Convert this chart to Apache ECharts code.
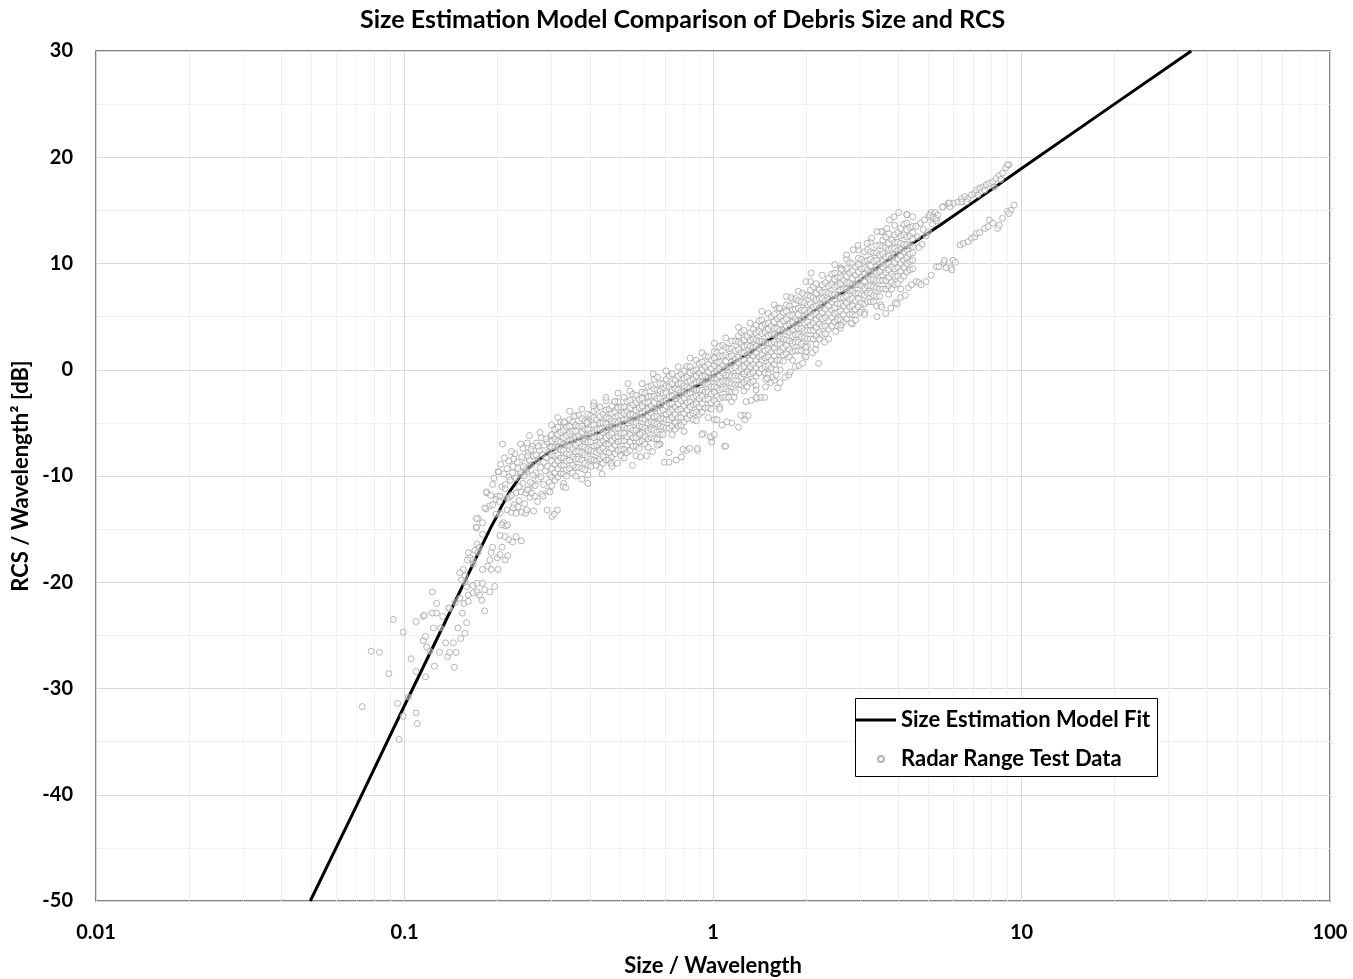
<!DOCTYPE html>
<html>
<head>
<meta charset="utf-8">
<script src="https://cdn.jsdelivr.net/npm/echarts@6/dist/echarts.min.js"></script>
<style>
  html, body { margin: 0; padding: 0; background: #fff; }
  #chart { width: 1353px; height: 979px; }
</style>
</head>
<body>
<div id="chart"></div>
<script>
const FONT = 'Lato, "Open Sans", sans-serif';

// Minor vertical grid positions (2..9 within each decade)
const minorXTicks = [0.02, 0.03, 0.04, 0.05, 0.06, 0.07, 0.08, 0.09,
  0.2, 0.3, 0.4, 0.5, 0.6, 0.7, 0.8, 0.9,
  2, 3, 4, 5, 6, 7, 8, 9,
  20, 30, 40, 50, 60, 70, 80, 90];

// Size estimation model curve: [size/wavelength, RCS/wavelength^2 dB]
const modelFit = [
  [0.0495, -50], [0.07, -41.0], [0.1, -31.6], [0.13, -24.8], [0.16, -19.4],
  [0.18, -16.3], [0.19, -14.9], [0.2, -13.7], [0.205, -13.0], [0.215, -11.9],
  [0.22, -11.4], [0.23, -10.6], [0.235, -10.2], [0.245, -9.6], [0.25, -9.35],
  [0.26, -8.9], [0.27, -8.55], [0.28, -8.2], [0.29, -7.9], [0.3, -7.6],
  [0.32, -7.2], [0.34, -6.9], [0.36, -6.6], [0.4, -6.2], [0.45, -5.6],
  [0.5, -5.1], [0.58, -4.4], [0.7, -3.1], [0.8, -2.2], [0.9, -1.4], [1.0, -0.6],
  [1.15, 0.6], [1.32, 1.6], [1.55, 3.0], [1.78, 4.0], [2.0, 5.0], [2.4, 6.6],
  [2.78, 7.7], [3.4, 9.6], [4.13, 11.3], [5.44, 13.6], [7.33, 16.2], [10, 18.95],
  [20, 25.0], [35.5, 30.0]
];

// Radar range measurements, Rayleigh tail
const rayleighTail = [
  [0.073,-31.7],[0.078,-26.5],[0.083,-26.6],[0.089,-28.6],[0.092,-23.5],[0.099,-24.7],
  [0.105,-27.2],[0.095,-31.4],[0.096,-34.8],[0.099,-32.6],[0.109,-32.3],[0.110,-33.3],
  [0.103,-30.8],[0.109,-28.4],[0.117,-28.9],[0.109,-23.7],[0.115,-23.2],[0.123,-22.9],
  [0.123,-20.9],[0.127,-22.0],[0.115,-25.5],[0.117,-25.1],[0.118,-26.1],[0.121,-26.5],
  [0.125,-27.9],[0.124,-24.3],[0.130,-26.6],[0.131,-24.3],[0.136,-25.7],[0.138,-27.0],
  [0.145,-28.0],[0.140,-26.6],[0.147,-26.6],[0.144,-25.7],[0.152,-25.3],[0.149,-24.3],
  [0.157,-24.8],[0.159,-23.8],[0.154,-22.9],[0.140,-22.5],[0.133,-23.2],[0.127,-22.9],
  [0.116,-23.1],[0.139,-22.4],[0.146,-21.9],[0.151,-21.5],[0.156,-22.0],[0.161,-21.8],
  [0.161,-21.2],[0.167,-21.0],[0.172,-20.9],[0.175,-21.2],[0.178,-21.7],[0.182,-22.7],
  [0.189,-20.9],[0.196,-20.4],[0.182,-20.7],[0.159,-20.4],[0.157,-20.0],[0.167,-20.3],
  [0.172,-20.1],[0.179,-20.1]
];

// Transition (knee) region
const kneeCloud = [
  [0.201,-9.6],[0.218,-10.1],[0.193,-10.8],[0.185,-11.6],[0.200,-11.9],[0.198,-12.2],
  [0.189,-12.8],[0.193,-12.7],[0.184,-13.1],[0.173,-14.0],[0.179,-14.4],[0.171,-14.9],
  [0.179,-15.5],[0.172,-16.4],[0.175,-16.7],[0.169,-17.0],[0.173,-17.2],[0.161,-17.2],
  [0.163,-17.7],[0.167,-17.9],[0.160,-17.9],[0.167,-18.3],[0.155,-18.8],[0.151,-19.1],
  [0.157,-19.4],[0.153,-19.8],[0.179,-18.8],[0.189,-17.9],[0.186,-18.5],[0.191,-18.8],
  [0.200,-17.7],[0.191,-17.2],[0.201,-18.8],[0.204,-17.4],[0.212,-17.9],[0.216,-17.5],
  [0.207,-16.7],[0.212,-15.7],[0.218,-16.0],[0.230,-15.7],[0.239,-16.1],[0.224,-16.2],
  [0.204,-15.6],[0.193,-16.7],[0.209,-14.4],[0.207,-14.6],[0.213,-14.7],[0.216,-14.6],
  [0.204,-13.5],[0.215,-13.2],[0.222,-13.4],[0.227,-12.7],[0.233,-12.9],[0.230,-13.5],
  [0.240,-13.4],[0.247,-13.5],[0.249,-13.2],[0.219,-12.0],[0.230,-11.6],[0.239,-11.5],
  [0.247,-11.6],[0.253,-11.3],[0.242,-10.7],[0.260,-10.7],[0.239,-9.9],[0.224,-9.7],
  [0.249,-9.6],[0.207,-11.0],[0.212,-10.8],[0.204,-11.9],[0.215,-12.1],
  [0.205,-8.9],[0.210,-9.8],[0.212,-11.2],[0.215,-9.3],[0.218,-8.6],[0.220,-10.4],
  [0.222,-11.8],[0.225,-9.1],[0.228,-7.9],[0.230,-10.2],[0.232,-8.7],[0.235,-11.0],
  [0.237,-9.6],[0.240,-8.2],[0.242,-7.4],[0.244,-10.0],[0.246,-8.8],[0.248,-9.4],
  [0.250,-11.3],[0.252,-7.8],[0.254,-8.5],[0.256,-10.6],[0.258,-9.0],[0.260,-7.2],
  [0.262,-8.1],[0.264,-11.9],[0.266,-9.7],[0.268,-6.9],[0.270,-8.6],[0.272,-10.3],
  [0.274,-7.6],[0.276,-9.2],[0.278,-6.4],[0.280,-8.0],[0.282,-10.8],[0.284,-7.1],
  [0.286,-9.5],[0.288,-8.3],[0.290,-6.8],[0.292,-11.4],[0.294,-7.7],[0.296,-9.9],
  [0.298,-6.2],[0.203,-12.4],[0.208,-7.0],[0.222,-7.7],[0.211,-8.3],[0.202,-9.6],
  [0.184,-11.5],[0.171,-14.0],[0.171,-14.8],[0.182,-13.0],[0.190,-11.8],[0.195,-10.2],
  [0.198,-13.6],[0.225,-13.0],[0.235,-12.3],[0.245,-12.6],[0.255,-12.0],[0.262,-13.3],
  [0.270,-12.4],[0.278,-11.7],[0.254,-6.2],[0.250,-6.9],[0.275,-5.9],
  [0.226,-8.4],[0.233,-9.3],[0.238,-7.0],[0.243,-9.1],[0.251,-8.1],[0.257,-7.5],
  [0.261,-9.9],[0.267,-8.0],[0.271,-7.2],[0.277,-10.1],[0.283,-8.7],[0.287,-6.5],
  [0.291,-9.1],[0.295,-10.6],[0.297,-7.3],[0.265,-10.9],[0.258,-11.6],[0.281,-11.9]
];

// Main measurement band: each row is [size/wavelength, [RCS values]]
const bandRows = [
  [0.300, [-5.2,-6.1,-6.7,-7.3,-8.0,-8.6,-9.3,-10.1,-10.9]],
  [0.307, [-5.6,-6.5,-7.3,-8.1,-8.9,-9.7,-10.4]],
  [0.314, [-4.5,-5.4,-6.1,-6.7,-7.3,-8.0,-8.6,-9.3,-10.1]],
  [0.321, [-4.9,-5.9,-6.8,-7.5,-8.3,-9.0,-9.8]],
  [0.328, [-5.0,-5.7,-6.4,-7.0,-7.6,-8.3,-9.0,-9.8,-10.7]],
  [0.335, [-5.4,-6.2,-7.1,-7.9,-8.6,-9.4,-10.0]],
  [0.343, [-3.9,-4.7,-5.3,-6.0,-6.7,-7.2,-8.0,-8.5,-9.3]],
  [0.351, [-4.9,-5.8,-6.6,-7.4,-8.2,-9.0,-9.7]],
  [0.359, [-4.3,-5.2,-5.8,-6.4,-7.1,-7.7,-8.4,-9.2,-10.0]],
  [0.367, [-4.3,-5.3,-6.2,-6.9,-7.7,-8.4,-9.2]],
  [0.376, [-3.7,-4.6,-5.3,-5.9,-6.5,-7.2,-7.8,-8.5,-9.3]],
  [0.384, [-4.8,-5.6,-6.5,-7.3,-8.0,-8.8,-9.4]],
  [0.393, [-4.2,-4.9,-5.6,-6.2,-6.8,-7.5,-8.2,-9.0,-9.9]],
  [0.402, [-4.3,-5.2,-6.0,-6.8,-7.6,-8.4,-9.1]],
  [0.411, [-3.1,-3.9,-4.5,-5.2,-5.9,-6.4,-7.2,-7.7,-8.5]],
  [0.420, [-3.7,-4.7,-5.6,-6.3,-7.1,-7.8,-8.6]],
  [0.430, [-3.5,-4.4,-5.0,-5.6,-6.3,-6.9,-7.6,-8.4,-9.2]],
  [0.440, [-4.2,-5.0,-5.9,-6.7,-7.4,-8.2,-8.8]],
  [0.450, [-2.9,-3.8,-4.5,-5.1,-5.7,-6.4,-7.0,-7.7,-8.5]],
  [0.460, [-3.7,-4.6,-5.4,-6.2,-7.0,-7.8,-8.5]],
  [0.470, [-3.4,-4.1,-4.8,-5.4,-6.0,-6.7,-7.4,-8.2,-9.1]],
  [0.481, [-3.0,-4.0,-4.9,-5.6,-6.4,-7.1,-7.9]],
  [0.492, [-2.2,-3.0,-3.6,-4.3,-5.0,-5.5,-6.3,-6.8,-7.6]],
  [0.503, [-3.5,-4.3,-5.2,-6.0,-6.7,-7.5,-8.1]],
  [0.515, [-2.6,-3.5,-4.1,-4.7,-5.4,-6.0,-6.7,-7.5,-8.3]],
  [0.526, [-3.0,-3.9,-4.7,-5.5,-6.3,-7.1,-7.8]],
  [0.538, [-2.0,-2.9,-3.6,-4.2,-4.8,-5.5,-6.1,-6.8,-7.6]],
  [0.550, [-2.3,-3.3,-4.2,-4.9,-5.7,-6.4,-7.2]],
  [0.563, [-2.4,-3.1,-3.8,-4.4,-5.0,-5.7,-6.4,-7.2,-8.1]],
  [0.576, [-2.8,-3.6,-4.5,-5.3,-6.0,-6.8,-7.4]],
  [0.589, [-1.3,-2.1,-2.7,-3.4,-4.1,-4.6,-5.4,-5.9,-6.7]],
  [0.602, [-2.2,-3.1,-3.9,-4.7,-5.5,-6.3,-7.0]],
  [0.616, [-1.6,-2.5,-3.1,-3.7,-4.4,-5.0,-5.7,-6.5,-7.3]],
  [0.630, [-1.5,-2.5,-3.4,-4.1,-4.9,-5.6,-6.4]],
  [0.644, [-0.9,-1.8,-2.5,-3.1,-3.7,-4.4,-5.0,-5.7,-6.5]],
  [0.659, [-1.9,-2.7,-3.6,-4.4,-5.1,-5.9,-6.5]],
  [0.674, [-1.3,-2.0,-2.7,-3.3,-3.9,-4.6,-5.3,-6.1,-7.0]],
  [0.689, [-1.3,-2.2,-3.0,-3.8,-4.6,-5.4,-6.1]],
  [0.705, [-0.1,-0.9,-1.5,-2.2,-2.9,-3.4,-4.2,-4.7,-5.5]],
  [0.721, [-0.6,-1.6,-2.5,-3.2,-4.0,-4.7,-5.5]],
  [0.737, [-0.4,-1.3,-1.9,-2.5,-3.2,-3.8,-4.5,-5.3,-6.1]],
  [0.754, [-1.0,-1.8,-2.7,-3.5,-4.2,-5.0,-5.6]],
  [0.771, [0.3,-0.6,-1.3,-1.9,-2.5,-3.2,-3.8,-4.5,-5.3]],
  [0.788, [-0.4,-1.3,-2.1,-2.9,-3.7,-4.5,-5.2]],
  [0.806, [-0.1,-0.8,-1.5,-2.1,-2.7,-3.4,-4.1,-4.9,-5.8]],
  [0.824, [0.3,-0.7,-1.6,-2.3,-3.1,-3.8,-4.6]],
  [0.843, [1.1,0.3,-0.3,-1.0,-1.7,-2.2,-3.0,-3.5,-4.3]],
  [0.862, [-0.1,-0.9,-1.8,-2.6,-3.3,-4.1,-4.7]],
  [0.882, [0.9,0.0,-0.6,-1.2,-1.9,-2.5,-3.2,-4.0,-4.8]],
  [0.902, [0.6,-0.3,-1.1,-1.9,-2.7,-3.5,-4.2]],
  [0.922, [1.6,0.7,0.0,-0.6,-1.2,-1.9,-2.5,-3.2,-4.0]],
  [0.943, [1.3,0.3,-0.6,-1.3,-2.1,-2.8,-3.6]],
  [0.965, [1.2,0.5,-0.2,-0.8,-1.4,-2.1,-2.8,-3.6,-4.5]],
  [0.987, [0.9,0.1,-0.8,-1.6,-2.3,-3.1,-3.7]],
  [1.01, [2.5,1.7,1.1,0.4,-0.3,-0.8,-1.6,-2.1,-2.9]],
  [1.03, [1.6,0.7,-0.1,-0.9,-1.7,-2.5,-3.2]],
  [1.05, [2.2,1.3,0.7,0.1,-0.6,-1.2,-1.9,-2.7,-3.5]],
  [1.075, [2.3,1.3,0.4,-0.3,-1.1,-1.8,-2.6]],
  [1.10, [3.0,2.1,1.4,0.8,0.2,-0.5,-1.1,-1.8,-2.6]],
  [1.125, [2.0,1.2,0.3,-0.5,-1.2,-2.0,-2.6]],
  [1.15, [2.7,2.0,1.3,0.7,0.1,-0.6,-1.3,-2.1,-3.0]],
  [1.18, [2.7,1.8,1.0,0.2,-0.6,-1.4,-2.1]],
  [1.21, [4.0,3.2,2.6,1.9,1.2,0.7,-0.1,-0.6,-1.4]],
  [1.235, [3.5,2.5,1.6,0.9,0.1,-0.7,-1.4]],
  [1.26, [3.7,2.8,2.2,1.6,0.9,0.3,-0.4,-1.2,-2.0]],
  [1.29, [3.1,2.3,1.4,0.6,-0.2,-1.0,-1.6]],
  [1.32, [4.4,3.5,2.8,2.2,1.6,0.9,0.3,-0.4,-1.2]],
  [1.35, [3.8,2.9,2.1,1.3,0.5,-0.3,-1.1]],
  [1.38, [4.2,3.5,2.8,2.2,1.6,0.9,0.2,-0.6,-1.5]],
  [1.41, [4.6,3.6,2.7,2.0,1.2,0.5,-0.3]],
  [1.44, [5.5,4.7,4.1,3.4,2.7,2.2,1.4,0.9,0.1]],
  [1.475, [4.3,3.5,2.6,1.8,1.1,0.3,-0.3]],
  [1.51, [5.3,4.4,3.8,3.2,2.5,1.9,1.2,0.4,-0.4]],
  [1.545, [5.0,4.1,3.3,2.5,1.7,0.9,0.2]],
  [1.58, [6.1,5.2,4.5,3.9,3.3,2.6,2.0,1.3,0.5]],
  [1.615, [5.8,4.8,3.9,3.2,2.4,1.7,0.9]],
  [1.65, [5.7,5.0,4.3,3.7,3.1,2.4,1.7,0.9,0.0]],
  [1.69, [5.4,4.6,3.7,2.9,2.1,1.4,0.8]],
  [1.73, [6.9,6.1,5.5,4.8,4.1,3.6,2.8,2.3,1.5]],
  [1.77, [6.0,5.1,4.3,3.5,2.7,1.9,1.2]],
  [1.81, [6.6,5.7,5.1,4.5,3.8,3.2,2.5,1.7,0.9]],
  [1.85, [6.7,5.7,4.8,4.1,3.3,2.6,1.8]],
  [1.89, [7.4,6.5,5.8,5.2,4.6,3.9,3.3,2.6,1.8]],
  [1.935, [6.4,5.6,4.7,3.9,3.1,2.4,1.8]],
  [1.98, [7.0,6.3,5.6,5.0,4.4,3.7,3.0,2.2,1.3]],
  [2.025, [7.0,6.1,5.3,4.5,3.7,2.9,2.2]],
  [2.07, [8.3,7.5,6.9,6.2,5.5,5.0,4.2,3.7,2.9]],
  [2.115, [7.8,6.8,5.9,5.2,4.4,3.7,2.9]],
  [2.16, [8.1,7.2,6.6,6.0,5.3,4.7,4.0,3.2,2.4]],
  [2.21, [7.5,6.7,5.8,5.0,4.3,3.5,2.9]],
  [2.26, [8.9,8.0,7.3,6.7,6.1,5.4,4.8,4.1,3.3]],
  [2.315, [8.2,7.3,6.5,5.7,4.9,4.1,3.4]],
  [2.37, [8.6,7.9,7.2,6.6,6.0,5.3,4.6,3.8,2.9]],
  [2.425, [9.0,8.0,7.1,6.4,5.6,4.9,4.1]],
  [2.48, [9.9,9.1,8.5,7.8,7.1,6.6,5.8,5.3,4.5]],
  [2.535, [8.7,7.9,7.0,6.2,5.4,4.7,4.1]],
  [2.59, [9.6,8.7,8.1,7.5,6.8,6.2,5.5,4.7,3.9]],
  [2.65, [9.3,8.4,7.6,6.8,6.0,5.2,4.5]],
  [2.71, [10.4,9.5,8.8,8.2,7.6,6.9,6.3,5.6,4.8]],
  [2.77, [10.1,9.1,8.2,7.5,6.6,5.9,5.2]],
  [2.83, [10.0,9.3,8.6,8.0,7.4,6.7,6.0,5.2,4.3]],
  [2.895, [9.7,8.9,8.0,7.2,6.5,5.7,5.1]],
  [2.96, [11.3,10.5,9.9,9.2,8.5,8.0,7.2,6.7,5.9]],
  [3.03, [10.4,9.5,8.7,7.9,7.1,6.3,5.6]],
  [3.10, [11.1,10.2,9.6,9.0,8.3,7.7,7.0,6.2,5.4]],
  [3.17, [11.3,10.3,9.4,8.7,7.9,7.2,6.4]],
  [3.24, [12.0,11.1,10.4,9.8,9.2,8.5,7.9,7.2,6.4]],
  [3.315, [11.0,10.2,9.3,8.5,7.8,7.0,6.4]],
  [3.39, [11.7,11.0,10.3,9.7,9.1,8.4,7.7,6.9,6.0]],
  [3.47, [11.7,10.8,10.0,9.2,8.4,7.6,6.9]],
  [3.55, [13.0,12.2,11.6,10.9,10.2,9.7,8.9,8.4,7.6]],
  [3.63, [12.5,11.5,10.6,9.9,9.1,8.4,7.6]],
  [3.71, [12.8,11.9,11.3,10.7,10.0,9.4,8.7,7.9,7.1]],
  [3.795, [12.2,11.4,10.5,9.7,9.0,8.2,7.6]],
  [3.88, [13.6,12.7,12.0,11.4,10.8,10.1,9.5,8.8,8.0]],
  [3.97, [12.9,12.0,11.2,10.4,9.6,8.8,8.1]],
  [4.06, [13.3,12.6,11.9,11.3,10.7,10.0,9.3,8.5,7.6]],
  [4.155, [13.7,12.7,11.8,11.1,10.3,9.6,8.8]],
  [4.25, [14.6,13.8,13.2,12.5,11.8,11.3,10.5,10.0,9.2]],
  [4.345, [13.4,12.6,11.7,10.9,10.2,9.4]],
  [4.44, [14.4,13.5,12.9,12.3,11.6,11.0,10.3,9.5]]
];

// Scattered points off the main band
const bandOutliers = [
  [0.327,-11.0],[0.333,-11.1],[0.376,-10.3],[0.393,-10.7],[0.437,-9.8],[0.418,-9.0],
  [0.467,-8.8],[0.490,-8.8],[0.548,-9.0],[0.582,-8.2],[0.637,-7.7],[0.695,-8.7],
  [0.670,-7.0],[0.290,-13.2],[0.301,-13.8],[0.313,-13.2],[0.306,-13.6],[0.296,-11.5],
  [0.354,-4.4],[0.330,-4.9],[0.390,-5.0],[0.480,-3.0],[0.530,-1.3],[0.640,-0.4],
  [0.660,-0.7],[0.450,-2.6],[0.410,-3.4],
  [0.72,-8.7],[0.76,-8.5],[0.79,-8.2],[0.82,-7.6],[0.84,-7.4],[0.89,-7.6],[0.80,-7.5],
  [0.66,-7.1],[0.72,-7.8],[0.61,-8.1],[0.58,-6.1],[0.93,-6.0],[0.99,-6.4],[1.09,-7.2],
  [0.98,-6.3],[0.92,-6.1],[1.01,-6.1],[0.99,-6.8],[0.89,-7.4],[1.01,-4.7],[1.07,-5.2],
  [1.15,-5.0],[1.28,-3.0],[1.33,-2.9],[1.39,-2.7],[1.26,-4.3],[1.05,-3.7],[1.03,-4.7],
  [1.10,-7.2],[1.11,-4.9],[1.21,-5.4],[1.23,-4.3],[1.27,-4.7],[1.30,-4.3],[1.38,-2.6],
  [1.43,-2.6],[1.47,-2.6],[1.38,-1.9],[1.48,-1.6],[1.54,-1.2],[1.58,-1.0],[1.62,-1.7],
  [1.65,-1.2],[1.71,-0.7],[1.76,-0.5],[1.78,-0.2],[1.85,0.3],[1.90,0.4],[1.95,0.6],
  [1.48,-0.9],[1.56,-0.7],[1.60,-0.5],[1.17,-2.6],[2.00,1.2],[2.20,0.6],[2.00,1.7],
  [2.10,1.6],[1.60,0.0],[1.50,-0.8],[2.00,2.1],
  [2.00,8.3],[2.60,9.5],[1.95,7.2],[1.79,6.8],[1.64,5.8],[4.00,14.8],[3.86,14.4],
  [3.73,14.1],[3.66,13.3],[3.50,13.0],[3.40,13.0],[3.27,12.4],[3.16,11.9],[2.95,11.7],
  [2.85,11.3],[2.71,10.8],[2.61,9.4],[2.08,9.1],[4.25,14.6],
  [4.60,12.5],[4.70,13.8],[4.80,13.2],[4.90,12.6],[4.75,11.8],[5.00,14.4],[5.10,14.8],
  [5.20,14.2],[5.25,14.8],[4.55,13.5],[4.65,11.5],[4.85,14.1],[5.00,13.0],[5.15,13.7],
  [5.30,14.0],[5.04,14.56],[5.16,14.4],[5.29,14.25],[5.36,14.56]
];

// Secondary streak below the model curve
const lowerStreak = [
  [2.15,1.9],[2.30,2.6],[2.50,3.6],[2.60,4.2],[2.80,4.4],[2.90,4.7],[3.00,5.4],[3.10,5.2],
  [3.40,5.0],[3.50,6.1],[3.52,5.9],[3.63,5.3],[3.77,5.8],[3.90,6.3],[3.95,6.2],[4.05,6.8],
  [4.20,7.0],[4.30,7.7],[4.40,8.0],[4.56,8.3],[4.65,8.2],[4.73,8.0],[4.90,8.3],[5.10,8.9],
  [5.30,9.7],[5.40,9.7],[5.60,10.1],[5.62,10.3],[5.70,9.6],[5.90,9.6],[5.95,9.4],[6.00,10.3],
  [6.10,10.1],[6.32,11.74],[6.48,11.9],[6.71,12.05],[6.88,12.37],[7.05,12.5],[7.14,12.84],
  [7.32,12.9],[7.60,13.3],[7.78,13.47],[7.87,14.1],[8.07,13.8],[8.37,13.3],[8.47,13.6],
  [8.68,14.25],[9.00,14.9],[9.23,15.0],[9.46,15.5],[9.11,14.7]
];

// Streak above the model curve at large sizes
const upperStreak = [
  [5.58,15.35],[5.79,15.66],[6.01,15.66],[6.24,15.8],[6.39,16.1],[6.55,16.3],[6.71,16.1],
  [6.88,16.45],[7.05,16.6],[7.14,16.9],[7.32,17.1],[7.50,17.2],[7.69,17.4],[7.87,17.55],
  [8.07,17.7],[8.27,18.0],[8.47,18.3],[8.68,18.5],[8.89,19.0],[9.11,19.3],[5.86,15.35],
  [6.63,15.8],[7.23,16.45],[7.60,16.9],[8.17,17.2],[8.57,17.9],[9.00,19.3],[5.54,15.3],
  [5.83,15.7],[6.40,15.8]
];

const bandPoints = [];
bandRows.forEach(function (row) {
  row[1].forEach(function (y) { bandPoints.push([row[0], y]); });
});
const testData = [].concat(rayleighTail, kneeCloud, bandPoints, bandOutliers, lowerStreak, upperStreak);

const chart = echarts.init(document.getElementById('chart'), null, { renderer: 'canvas' });

const tickStyle = { color: '#000', fontFamily: FONT, fontWeight: 'bold', fontSize: 20 };
const nameStyle = { color: '#000', fontFamily: FONT, fontWeight: 'bold', fontSize: 22 };
const legendText = { color: '#000', fontFamily: FONT, fontWeight: 'bold', fontSize: 22 };

chart.setOption({
  animation: false,
  backgroundColor: '#fff',
  title: {
    text: 'Size Estimation Model Comparison of Debris Size and RCS',
    left: 360, top: 7, padding: 0,
    textStyle: { color: '#000', fontFamily: FONT, fontWeight: 'bold', fontSize: 25 }
  },
  grid: {
    left: 96, right: 23, top: 51, bottom: 78,
    containLabel: false, outerBoundsMode: 'none',
    show: true, borderColor: '#595959', borderWidth: 1.5, backgroundColor: 'transparent'
  },
  xAxis: {
    type: 'log', logBase: 10, min: 0.01, max: 100,
    name: 'Size / Wavelength', nameLocation: 'middle', nameGap: 54,
    nameTextStyle: nameStyle,
    axisLine: { show: false }, axisTick: { show: false },
    axisLabel: Object.assign({ margin: 22, formatter: function (v) { return String(+Number(v).toPrecision(3)); } }, tickStyle),
    splitLine: { show: true, lineStyle: { color: '#d9d9d9', width: 1 } }
  },
  yAxis: {
    type: 'value', min: -50, max: 30, interval: 10,
    name: 'RCS / Wavelength\u00B2 [dB]', nameLocation: 'middle', nameGap: 50,
    nameTextStyle: nameStyle,
    axisLine: { show: false }, axisTick: { show: false },
    axisLabel: Object.assign({ margin: 23 }, tickStyle),
    splitLine: { show: true, lineStyle: { color: '#d9d9d9', width: 1 } },
    minorTick: { show: false, splitNumber: 2 },
    minorSplitLine: { show: true, lineStyle: { color: '#efefef', width: 1 } }
  },
  legend: [
    {
      data: [{ name: 'Size Estimation Model Fit', icon: 'rect' }],
      left: 856, top: 709, padding: 0,
      itemWidth: 40, itemHeight: 3,
      itemStyle: { color: '#000' },
      textStyle: legendText
    },
    {
      data: [{ name: 'Radar Range Test Data', icon: 'circle' }],
      left: 877, top: 748, padding: 0,
      itemWidth: 6, itemHeight: 6,
      textStyle: Object.assign({ padding: [0, 0, 0, 12] }, legendText)
    }
  ],
  graphic: [{
    type: 'rect', left: 855, top: 698, z: 3, silent: true,
    shape: { width: 302, height: 78 },
    style: { fill: '#fff', stroke: '#000', lineWidth: 1 }
  }],
  series: [
    {
      name: 'minor-grid', type: 'scatter', data: [], z: 0, silent: true,
      markLine: {
        z: 0, silent: true, symbol: ['none', 'none'], animation: false,
        label: { show: false },
        lineStyle: { color: '#efefef', width: 1, type: 'solid' },
        emphasis: { disabled: true },
        data: minorXTicks.map(function (v) { return { xAxis: v }; })
      }
    },
    {
      name: 'Size Estimation Model Fit', type: 'line', data: modelFit, z: 2,
      symbol: 'none', smooth: false,
      lineStyle: { color: '#000', width: 3 }, itemStyle: { color: '#000' }
    },
    {
      name: 'Radar Range Test Data', type: 'scatter', data: testData, z: 3,
      symbol: 'circle', symbolSize: 6, symbolKeepAspect: true,
      itemStyle: { color: 'rgba(255,255,255,0.55)', borderColor: '#a3a3a3', borderWidth: 1 }
    }
  ]
});
</script>
</body>
</html>
